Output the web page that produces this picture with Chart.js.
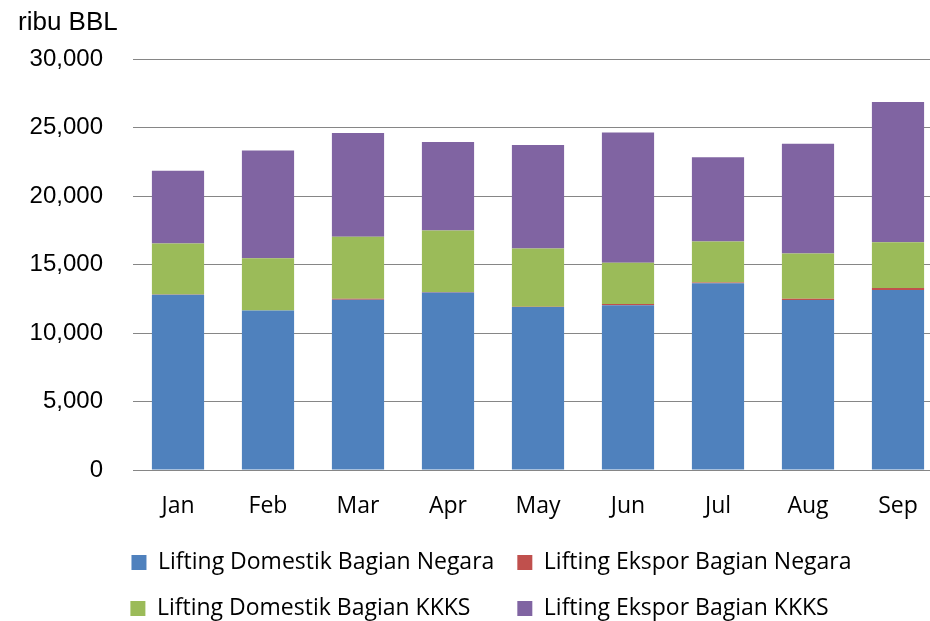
<!DOCTYPE html>
<html>
<head>
<meta charset="utf-8">
<script src="https://cdn.jsdelivr.net/npm/chart.js@4.4.1/dist/chart.umd.min.js"></script>
<style>
  html, body { margin: 0; padding: 0; background: #fff; overflow: hidden; }
  #wrap { position: absolute; left: 0; top: 0; }
</style>
</head>
<body>
<div id="wrap"><canvas id="chart" width="950" height="630"></canvas></div>
<script>
// data (ribu BBL)
const months = ['Jan', 'Feb', 'Mar', 'Apr', 'May', 'Jun', 'Jul', 'Aug', 'Sep'];
const domestikNegara = [12800, 11640, 12440, 12970, 11900, 12030, 13630, 12410, 13140];
const eksporNegara   = [10, 10, 60, 20, 20, 100, 70, 100, 145];
const domestikKKKS   = [3740, 3810, 4530, 4500, 4260, 3010, 2990, 3300, 3355];
const eksporKKKS     = [5300, 7870, 7580, 6470, 7560, 9500, 6145, 8020, 10230];
const yTicks = [0, 5000, 10000, 15000, 20000, 25000, 30000];

const seriesNames = [
    'Lifting Domestik Bagian Negara',
    'Lifting Ekspor Bagian Negara',
    'Lifting Domestik Bagian KKKS',
    'Lifting Ekspor Bagian KKKS'
];
const seriesColors = ['#4F81BD', '#C0504D', '#9BBB59', '#8064A2'];
const seriesData = [domestikNegara, eksporNegara, domestikKKKS, eksporKKKS];

const gridGray = '#868686';

// geser legend sedikit ke kanan supaya kolom kiri mulai sejajar dengan plot
const legendShift = {
    id: 'legendShift',
    afterLayout(chart) {
        if (chart.legend) {
            chart.legend.left += 11;
            chart.legend.right += 11;
        }
    }
};

new Chart(document.getElementById('chart').getContext('2d'), {
    type: 'bar',
    data: {
        labels: months,
        datasets: seriesData.map((d, i) => ({
            label: seriesNames[i],
            data: d,
            backgroundColor: seriesColors[i],
            borderWidth: 0,
            categoryPercentage: 1,
            barPercentage: 0.58
        }))
    },
    options: {
        responsive: false,
        animation: false,
        layout: { padding: { left: 18, right: 7, top: 0, bottom: 0 } },
        plugins: {
            tooltip: { enabled: false },
            title: {
                display: true,
                text: 'ribu BBL',
                align: 'start',
                color: '#000',
                font: { family: '"Liberation Sans", Arial, sans-serif', size: 26, weight: 'normal' },
                padding: { top: 7, bottom: 21 }
            },
            legend: {
                position: 'bottom',
                labels: {
                    color: '#000',
                    font: { family: '"Open Sans", sans-serif', size: 23 },
                    boxWidth: 15,
                    boxHeight: 15,
                    padding: 23,
                    generateLabels: function(chart) {
                        const items = Chart.defaults.plugins.legend.labels.generateLabels(chart);
                        // isi spasi agar kolom kedua sejajar di kedua baris
                        items[2].text = items[2].text + '    ';
                        items[3].text = items[3].text + '    ';
                        return items;
                    }
                }
            }
        },
        scales: {
            x: {
                stacked: true,
                grid: { display: false, drawTicks: false },
                border: { display: true, color: gridGray, width: 1 },
                ticks: {
                    color: '#000',
                    padding: 23,
                    font: { family: '"Open Sans", sans-serif', size: 23 }
                },
                afterFit: function(scale) { scale.height = 58; }
            },
            y: {
                stacked: true,
                min: 0,
                max: 30000,
                grid: { color: gridGray, lineWidth: 1, drawTicks: false },
                border: { display: false },
                afterBuildTicks: function(scale) {
                    scale.ticks = yTicks.map(v => ({ value: v }));
                },
                afterFit: function(scale) { scale.width = 115; },
                ticks: {
                    color: '#000',
                    padding: 30,
                    font: { family: '"Liberation Sans", Arial, sans-serif', size: 24 },
                    callback: function(value) {
                        return value.toLocaleString('en-US');
                    }
                }
            }
        }
    },
    plugins: [legendShift]
});
</script>
</body>
</html>
